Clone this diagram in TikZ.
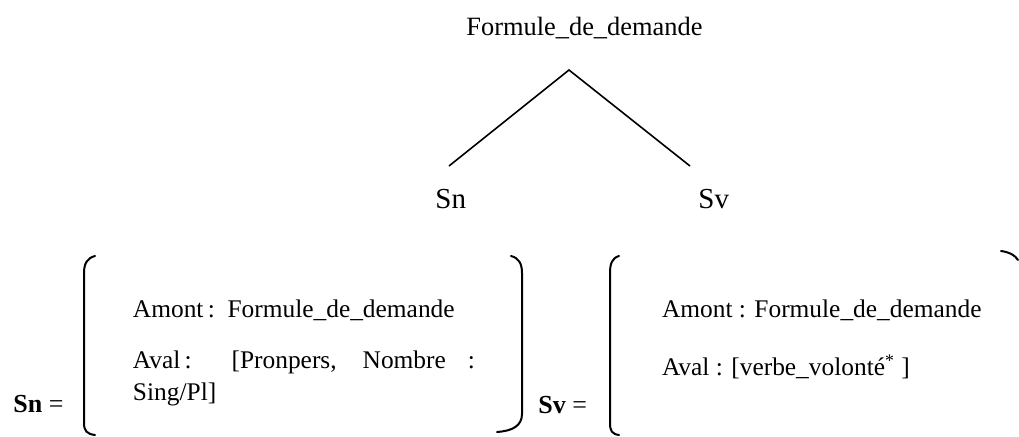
\documentclass[tikz,border=0pt]{standalone}
\usepackage{fontspec}
\setmainfont{Liberation Serif}
\begin{document}
\begin{tikzpicture}[x=0.5pt,y=-0.5pt,
  txt/.style={anchor=base west,inner sep=0pt,outer sep=0pt,font=\fontsize{12.7}{15}\selectfont},
  title/.style={anchor=base west,inner sep=0pt,font=\fontsize{13.2}{16}\selectfont},
  cat/.style={anchor=base west,inner sep=0pt,font=\fontsize{14.5}{17}\selectfont},
  lab/.style={anchor=base west,inner sep=0pt,font=\fontsize{13}{16}\selectfont},
  branch/.style={line width=0.8pt},
  brack/.style={line width=1pt,line cap=round}]
\useasboundingbox (0,0) rectangle (1019,436);

% tree
\node[title] (root) at (466,35) {Formule\_de\_demande};
\coordinate (apex) at (569,70);
\coordinate (snend) at (449,166);
\coordinate (svend) at (690,166);
\draw[branch] (snend) -- (apex) -- (svend);
\node[cat] (sn) at (435,208) {Sn};
\node[cat] (sv) at (698,208) {Sv};

% Sn feature structure
\node[lab] (snlab) at (13,412) {\textbf{Sn} =};
\draw[brack] (95,256) .. controls (87,258) and (84,264) .. (84,273) -- (84,423) .. controls (84,431) and (87,434) .. (95,435);
\node[txt] (snam) at (133,317) {Amont\,:\ \ Formule\_de\_demande};
\node[txt] (snav) at (133,368) {\makebox[171pt][s]{Aval\,: [Pronpers, Nombre :}};
\node[txt] (snav2) at (133,400) {Sing/Pl]};
\draw[brack] (511,256) .. controls (519,258) and (522,264) .. (522,273) -- (522,414) .. controls (522,426) and (512,431) .. (497,432);

% Sv feature structure
\node[lab] (svlab) at (538,413) {\textbf{Sv} =};
\draw[brack] (619,256) .. controls (612,258) and (610,264) .. (610,273) -- (610,423) .. controls (610,431) and (612,434) .. (619,435);
\node[txt] (svam) at (662,317) {Amont : Formule\_de\_demande};
\node[txt] (svav) at (662,375) {Aval : [verbe\_volonté\textsuperscript{*} ]};
\draw[brack] (1001,251) .. controls (1009,252) and (1015,255) .. (1018,260);
\end{tikzpicture}
\end{document}
